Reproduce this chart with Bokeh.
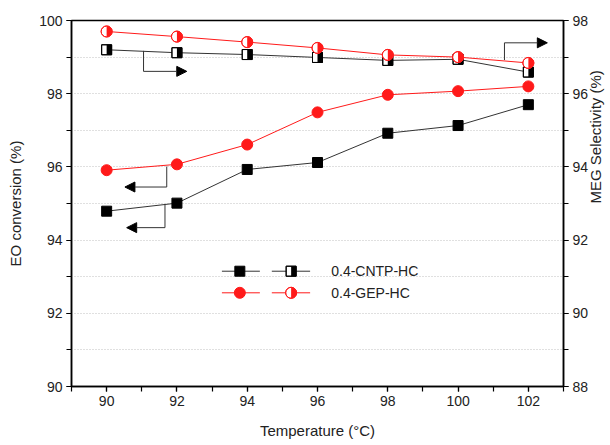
import math

from bokeh.core.properties import value
from bokeh.embed import file_html
from bokeh.models import Arrow, ColumnDataSource, FixedTicker, LinearAxis, NormalHead, Range1d
from bokeh.plotting import figure
from bokeh.resources import INLINE
from bokeh.transform import dodge

# ---- data -------------------------------------------------------------
temperature = [90, 92, 94, 96, 98, 100, 102]
cntp_conversion = [94.79, 95.01, 95.93, 96.12, 96.92, 97.13, 97.70]
gep_conversion = [95.91, 96.07, 96.61, 97.49, 97.97, 98.07, 98.20]
cntp_selectivity = [97.20, 97.12, 97.07, 96.99, 96.91, 96.94, 96.59]
gep_selectivity = [97.70, 97.56, 97.41, 97.25, 97.06, 97.00, 96.84]
series_names = ["0.4-CNTP-HC", "0.4-GEP-HC"]

x_ticks = [90, 92, 94, 96, 98, 100, 102]
left_ticks = [90, 92, 94, 96, 98, 100]
right_ticks = [88, 90, 92, 94, 96, 98]

# ---- styling ----------------------------------------------------------
FONT = "Liberation Sans"
DARK = "#333333"
RED = "#ff1a1a"
X_RANGE = (89, 103)
FRAME_W, FRAME_H = 492, 366
PX_PER_X = FRAME_W / (X_RANGE[1] - X_RANGE[0])

p = figure(
    frame_width=FRAME_W, frame_height=FRAME_H,
    x_range=Range1d(*X_RANGE), y_range=Range1d(90, 100),
    output_backend="svg", toolbar_location=None,
    min_border_left=71, min_border_right=47, min_border_top=20, min_border_bottom=59,
    background_fill_color="white", border_fill_color="white",
)
p.extra_y_ranges = {"sel": Range1d(88, 98)}

p.outline_line_color = "black"
p.outline_line_width = 1.5
p.xgrid.visible = False
p.ygrid.ticker = FixedTicker(ticks=list(range(91, 100)))
p.ygrid.grid_line_color = "#c0c0c0"
p.ygrid.grid_line_dash = "1 2"
p.ygrid.grid_line_width = 1


def style_axis(ax, ticks, minor):
    ax.ticker = FixedTicker(ticks=ticks, minor_ticks=minor)
    ax.axis_line_color = "black"
    ax.axis_line_width = 1.5
    ax.major_tick_line_color = "black"
    ax.major_tick_line_width = 1.2
    ax.minor_tick_line_color = "black"
    ax.minor_tick_line_width = 1.2
    ax.major_tick_in = 0
    ax.major_tick_out = 5
    ax.minor_tick_in = 0
    ax.minor_tick_out = 5
    ax.major_label_text_font = FONT
    ax.major_label_text_font_size = "14px"
    ax.major_label_text_color = "#222222"
    ax.major_label_standoff = 4
    ax.axis_label_text_font = FONT
    ax.axis_label_text_font_size = "15px"
    ax.axis_label_text_font_style = "normal"
    ax.axis_label_text_color = "#222222"


xaxis = p.xaxis[0]
style_axis(xaxis, x_ticks, list(range(89, 104)))
xaxis.axis_label = "Temperature (°C)"
xaxis.axis_label_standoff = 13

yaxis = p.yaxis[0]
style_axis(yaxis, left_ticks, list(range(90, 101)))
yaxis.axis_label = "EO conversion (%)"
yaxis.axis_label_standoff = 12

raxis = LinearAxis(y_range_name="sel")
style_axis(raxis, right_ticks, list(range(88, 99)))
raxis.axis_label = "MEG Selectivity (%)"
raxis.axis_label_standoff = 4
# read bottom to top, like the left-hand title
raxis.axis_label_orientation = math.pi / 2
p.add_layout(raxis, "right")

# ---- series -----------------------------------------------------------
src = ColumnDataSource(dict(
    t=temperature,
    cntp_conv=cntp_conversion, gep_conv=gep_conversion,
    cntp_sel=cntp_selectivity, gep_sel=gep_selectivity,
))

# EO conversion (left axis): filled markers
p.line("t", "cntp_conv", source=src, line_color=DARK, line_width=1)
p.scatter("t", "cntp_conv", source=src, marker="square", size=10,
          fill_color="black", line_color="black")
p.line("t", "gep_conv", source=src, line_color=RED, line_width=1)
p.scatter("t", "gep_conv", source=src, marker="circle", size=11,
          fill_color=RED, line_color=RED)

# MEG selectivity (right axis): half-filled markers
half = 0.25 * 10 / PX_PER_X
p.line("t", "cntp_sel", source=src, line_color=DARK, line_width=1, y_range_name="sel")
p.scatter("t", "cntp_sel", source=src, marker="square", size=10,
          fill_color="white", line_color="black", y_range_name="sel")
p.rect(dodge("t", half, range=p.x_range), "cntp_sel", source=src,
       width=5, height=10, width_units="screen", height_units="screen",
       fill_color="black", line_color=None, y_range_name="sel")
p.scatter("t", "cntp_sel", source=src, marker="square", size=10,
          fill_color=None, line_color="black", y_range_name="sel")

p.line("t", "gep_sel", source=src, line_color=RED, line_width=1, y_range_name="sel")
p.scatter("t", "gep_sel", source=src, marker="circle", size=11,
          fill_color="white", line_color=RED, y_range_name="sel")
p.wedge("t", "gep_sel", source=src, radius=5.5, radius_units="screen",
        start_angle=-math.pi / 2, end_angle=math.pi / 2,
        fill_color=RED, line_color=None, y_range_name="sel")
p.scatter("t", "gep_sel", source=src, marker="circle", size=11,
          fill_color=None, line_color=RED, y_range_name="sel")

# ---- axis-pointer arrows (bend x, line y, elbow y, tip x) in left-axis units
pointers = [
    (91.05, 99.17, 98.61, 92.28),
    (101.32, 98.92, 99.39, 102.54),
    (91.71, 96.01, 95.45, 90.52),
    (91.66, 94.97, 94.34, 90.57),
]
for bx, y0, y1, tip in pointers:
    p.segment(x0=[bx], y0=[y0], x1=[bx], y1=[y1], line_color=DARK, line_width=1)
    p.add_layout(Arrow(
        x_start=bx, y_start=y1, x_end=tip, y_end=y1,
        line_color=DARK, line_width=1,
        end=NormalHead(size=10, fill_color="black", line_color="black"),
    ))

# ---- legend (two samples per row + label) -----------------------------
leg_rows = [93.15, 92.56]
leg_colors = [DARK, RED]
for row_y, col, name, idx in zip(leg_rows, leg_colors, series_names, range(2)):
    p.segment(x0=[93.28, 94.70], y0=[row_y, row_y], x1=[94.36, 95.79], y1=[row_y, row_y],
              line_color=col, line_width=1)
    if idx == 0:
        p.scatter([93.79], [row_y], marker="square", size=10, fill_color="black", line_color="black")
        p.scatter([95.25], [row_y], marker="square", size=10, fill_color="white", line_color="black")
        p.rect([95.25 + half], [row_y], width=5, height=10, width_units="screen",
               height_units="screen", fill_color="black", line_color=None)
        p.scatter([95.25], [row_y], marker="square", size=10, fill_color=None, line_color="black")
    else:
        p.scatter([93.79], [row_y], marker="circle", size=11, fill_color=RED, line_color=RED)
        p.scatter([95.25], [row_y], marker="circle", size=11, fill_color="white", line_color=RED)
        p.wedge([95.25], [row_y], radius=5.5, radius_units="screen",
                start_angle=-math.pi / 2, end_angle=math.pi / 2, fill_color=RED, line_color=None)
        p.scatter([95.25], [row_y], marker="circle", size=11, fill_color=None, line_color=RED)
    p.text([96.39], [row_y], text=[name], text_font=value(FONT), text_font_size="14px",
           text_baseline="middle", text_align="left", text_color="#222222")

open("out.html", "w").write(file_html(p, INLINE))
